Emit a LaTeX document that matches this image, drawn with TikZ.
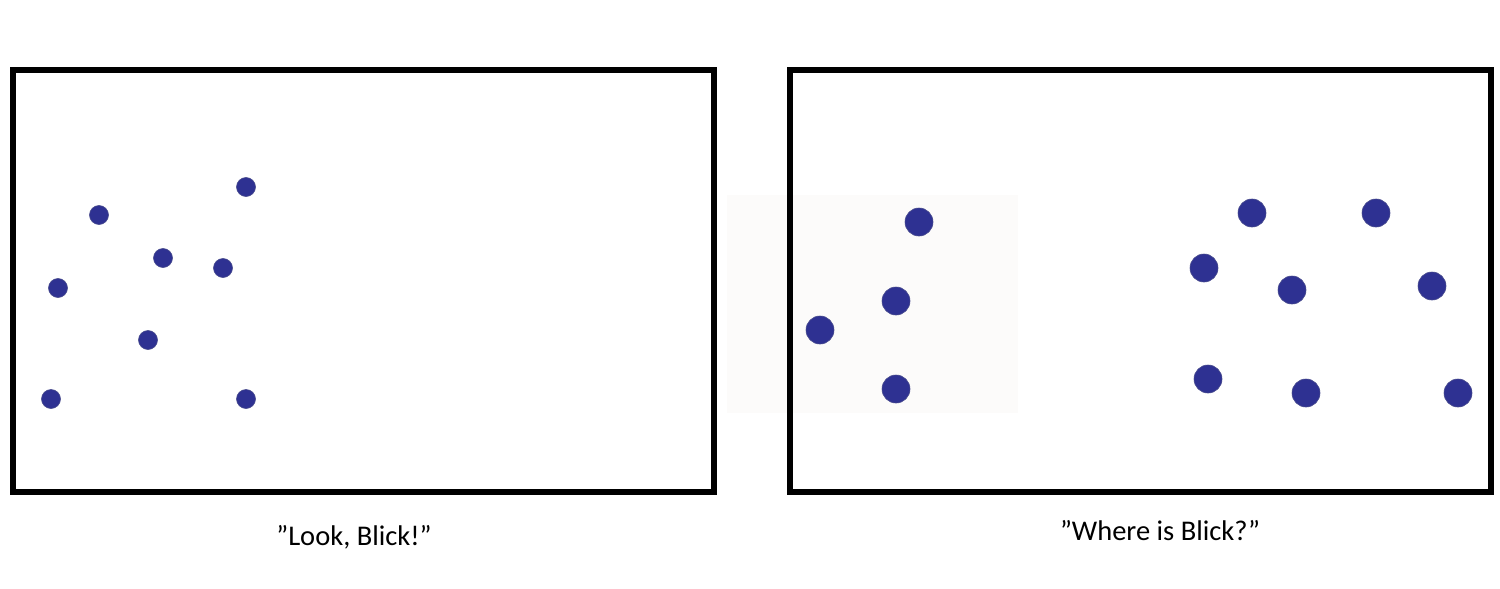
\documentclass[tikz,border=0pt]{standalone}
\usepackage{fontspec}
\setmainfont{Carlito}
\definecolor{dotblue}{HTML}{2E3192}
\definecolor{faint}{HTML}{FCFBFA}
\begin{document}
\begin{tikzpicture}[x=1pt,y=-1pt,
  frame/.style={draw=black,line width=6pt},
  smalldot/.style={circle,fill=dotblue,draw=dotblue!70!gray,line width=0.6pt,minimum size=19pt,inner sep=0pt},
  bigdot/.style={circle,fill=dotblue,draw=dotblue!70!gray,line width=0.6pt,minimum size=28pt,inner sep=0pt},
  caption/.style={font=\fontsize{28.5}{33}\selectfont,text=black,inner sep=0pt}]
\useasboundingbox[fill=white] (0,0) rectangle (1500,589);
\fill[faint] (727,195) rectangle (1018,413);
\draw[frame] (13,70) rectangle (714,491.5);
\draw[frame] (790,70) rectangle (1491,491.5);
% left dots
\node[smalldot] (l1) at (246,187) {};
\node[smalldot] (l2) at (99,215) {};
\node[smalldot] (l3) at (163,258) {};
\node[smalldot] (l4) at (223,268) {};
\node[smalldot] (l5) at (58,288) {};
\node[smalldot] (l6) at (148,340) {};
\node[smalldot] (l7) at (51,399) {};
\node[smalldot] (l8) at (246,399) {};
% right dots
\node[bigdot] (r1) at (919,222) {};
\node[bigdot] (r2) at (896,301) {};
\node[bigdot] (r3) at (820,330) {};
\node[bigdot] (r4) at (896,389) {};
\node[bigdot] (r5) at (1252,213) {};
\node[bigdot] (r6) at (1376,213) {};
\node[bigdot] (r7) at (1204,268) {};
\node[bigdot] (r8) at (1292,290) {};
\node[bigdot] (r9) at (1432,286) {};
\node[bigdot] (r10) at (1208,379) {};
\node[bigdot] (r11) at (1306,393) {};
\node[bigdot] (r12) at (1458,393) {};
\node[caption] (c1) at (354,537) {”Look, Blick!”};
\node[caption] (c2) at (1160,531) {”Where is Blick?”};
\end{tikzpicture}
\end{document}
